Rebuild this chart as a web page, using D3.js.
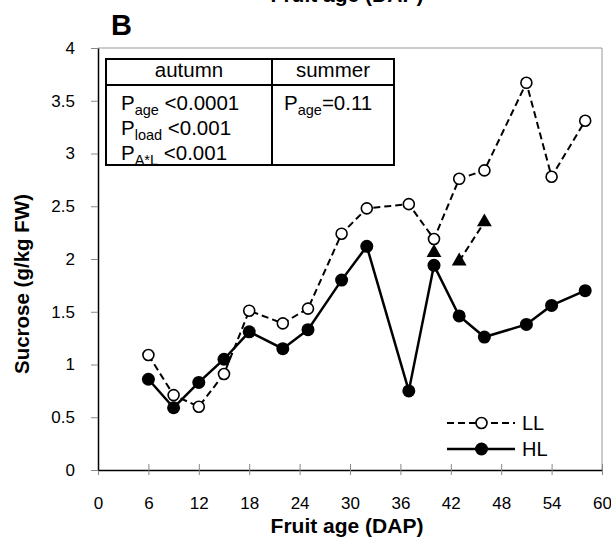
<!DOCTYPE html>
<html>
<head>
<meta charset="utf-8">
<script src="https://cdn.jsdelivr.net/npm/d3@7"></script>
<style>
  body { margin: 0; background: #fff; }
  text { font-family: "Liberation Sans", Arial, sans-serif; }
</style>
</head>
<body>
<svg id="chart"></svg>
<script>
// Fruit age (days after pollination)
const days = [6, 9, 12, 15, 18, 22, 25, 29, 32, 37, 40, 43, 46, 51, 54, 58];
// Sucrose (g/kg FW), low load
const llValues = [1.09, 0.71, 0.60, 0.91, 1.51, 1.39, 1.53, 2.24, 2.48, 2.52, 2.19, 2.76, 2.84, 3.67, 2.78, 3.31];
// Sucrose (g/kg FW), high load
const hlValues = [0.86, 0.59, 0.83, 1.05, 1.31, 1.15, 1.33, 1.80, 2.12, 0.75, 1.94, 1.46, 1.26, 1.38, 1.56, 1.70];
// summer points (triangles)
const summerDays = [40, 43, 46];
const summerValues = [2.06, 1.98, 2.35];

const xTicks = [0, 6, 12, 18, 24, 30, 36, 42, 48, 54, 60];
const yTicks = [0, 0.5, 1, 1.5, 2, 2.5, 3, 3.5, 4];

const width = 611, height = 542;
const margin = {top: 48, right: 9, bottom: 72, left: 98};
const innerW = width - margin.left - margin.right;
const innerH = height - margin.top - margin.bottom;

const svg = d3.select('#chart')
    .attr('width', width)
    .attr('height', height);

const g = svg.append('g')
    .attr('transform', `translate(${margin.left},${margin.top})`);

const x = d3.scaleLinear().domain([0, 60]).range([0, innerW]);
const y = d3.scaleLinear().domain([0, 4]).range([innerH, 0]);

// grey frame (top and right)
g.append('line').attr('x1', 0).attr('x2', innerW).attr('y1', 0).attr('y2', 0)
    .attr('stroke', '#999').attr('stroke-width', 1);
g.append('line').attr('x1', innerW).attr('x2', innerW).attr('y1', 0).attr('y2', innerH)
    .attr('stroke', '#999').attr('stroke-width', 1);

// axes
const xAxisG = g.append('g')
    .attr('transform', `translate(0,${innerH})`)
    .call(d3.axisBottom(x).tickValues(xTicks).tickSize(5).tickSizeOuter(0).tickPadding(22).tickFormat(d3.format('d')));
xAxisG.selectAll('.tick line').attr('y1', -6).attr('stroke', '#888');

const yAxisG = g.append('g')
    .call(d3.axisLeft(y).tickValues(yTicks).tickSize(7).tickSizeOuter(0).tickPadding(16).tickFormat(d => d));
yAxisG.selectAll('.tick line').attr('stroke', '#888');

[xAxisG, yAxisG].forEach(a => {
  a.select('.domain').attr('stroke', '#000').attr('stroke-width', 1.5);
  a.selectAll('.tick text').attr('font-size', 17).attr('fill', '#000')
      .attr('font-family', '"Liberation Sans", Arial, sans-serif');
});

// axis titles
svg.append('text')
    .attr('x', margin.left + innerW / 2 - 3)
    .attr('y', 533)
    .attr('text-anchor', 'middle')
    .attr('font-size', 21).attr('font-weight', 'bold')
    .text('Fruit age (DAP)');

svg.append('text')
    .attr('x', margin.left + innerW / 2 - 3)
    .attr('y', 2)
    .attr('text-anchor', 'middle')
    .attr('font-size', 21).attr('font-weight', 'bold')
    .text('Fruit age (DAP)');

svg.append('text')
    .attr('transform', 'translate(29,284) rotate(-90)')
    .attr('text-anchor', 'middle')
    .attr('font-size', 20.5).attr('font-weight', 'bold')
    .text('Sucrose (g/kg FW)');

svg.append('text')
    .attr('x', 111).attr('y', 35)
    .attr('font-size', 29).attr('font-weight', 'bold')
    .text('B');

const ll = days.map((d, i) => ({day: d, value: llValues[i]}));
const hl = days.map((d, i) => ({day: d, value: hlValues[i]}));
const summer = summerDays.map((d, i) => ({day: d, value: summerValues[i]}));

const line = d3.line()
    .x(d => x(d.day))
    .y(d => y(d.value));

const marks = g.append('g');

marks.append('path').datum(hl)
    .attr('d', line).attr('fill', 'none')
    .attr('stroke', '#000').attr('stroke-width', 2.5);

marks.append('path').datum(ll)
    .attr('d', line).attr('fill', 'none')
    .attr('stroke', '#000').attr('stroke-width', 2).attr('stroke-dasharray', '7,4');

marks.append('path').datum(summer.slice(1))
    .attr('d', line).attr('fill', 'none')
    .attr('stroke', '#000').attr('stroke-width', 2).attr('stroke-dasharray', '7,4');

marks.selectAll('.hl-dot').data(hl).join('circle')
    .attr('class', 'hl-dot')
    .attr('cx', d => x(d.day)).attr('cy', d => y(d.value))
    .attr('r', 6.5).attr('fill', '#000');

marks.selectAll('.tri').data(summer).join('path')
    .attr('class', 'tri')
    .attr('transform', d => `translate(${x(d.day)},${y(d.value)})`)
    .attr('d', d3.symbol(d3.symbolTriangle, 95))
    .attr('fill', '#000');

marks.selectAll('.ll-dot').data(ll).join('circle')
    .attr('class', 'll-dot')
    .attr('cx', d => x(d.day)).attr('cy', d => y(d.value))
    .attr('r', 5.5).attr('fill', '#fff')
    .attr('stroke', '#000').attr('stroke-width', 1.6);

// statistics table
const table = svg.append('g');
table.append('rect')
    .attr('x', 106).attr('y', 59).attr('width', 288).attr('height', 106)
    .attr('fill', '#fff').attr('stroke', '#000').attr('stroke-width', 2);
table.append('line').attr('x1', 106).attr('x2', 394).attr('y1', 85).attr('y2', 85)
    .attr('stroke', '#000').attr('stroke-width', 2);
table.append('line').attr('x1', 272).attr('x2', 272).attr('y1', 59).attr('y2', 165)
    .attr('stroke', '#000').attr('stroke-width', 2);

table.append('text').attr('x', 189).attr('y', 77).attr('text-anchor', 'middle')
    .attr('font-size', 20.5).text('autumn');
table.append('text').attr('x', 333).attr('y', 77).attr('text-anchor', 'middle')
    .attr('font-size', 20.5).text('summer');

const pRows = [
  {x: 121, y: 110, sub: 'age', rest: ' <0.0001'},
  {x: 121, y: 135, sub: 'load', rest: ' <0.001'},
  {x: 121, y: 160, sub: 'A*L', rest: ' <0.001'},
  {x: 284, y: 110, sub: 'age', rest: '=0.11'}
];
pRows.forEach(r => {
  const t = table.append('text').attr('x', r.x).attr('y', r.y).attr('font-size', 20.5);
  t.append('tspan').text('P');
  t.append('tspan').attr('font-size', 14.5).attr('dy', 5).text(r.sub);
  t.append('tspan').attr('dy', -5).text(r.rest);
});

// legend
const legend = svg.append('g');
const legendItems = [
  {label: 'LL', y: 423, dash: '7,4', fill: '#fff', width: 2},
  {label: 'HL', y: 449, dash: null, fill: '#000', width: 2.5}
];
legendItems.forEach(it => {
  legend.append('line').attr('x1', 447).attr('x2', 515).attr('y1', it.y).attr('y2', it.y)
      .attr('stroke', '#000').attr('stroke-width', it.width)
      .attr('stroke-dasharray', it.dash);
  legend.append('circle').attr('cx', 481.5).attr('cy', it.y)
      .attr('r', it.fill === '#000' ? 6.5 : 5.5)
      .attr('fill', it.fill).attr('stroke', '#000').attr('stroke-width', it.fill === '#000' ? 0 : 1.6);
  legend.append('text').attr('x', 522).attr('y', it.y + 7)
      .attr('font-size', 20).text(it.label);
});
</script>
</body>
</html>
